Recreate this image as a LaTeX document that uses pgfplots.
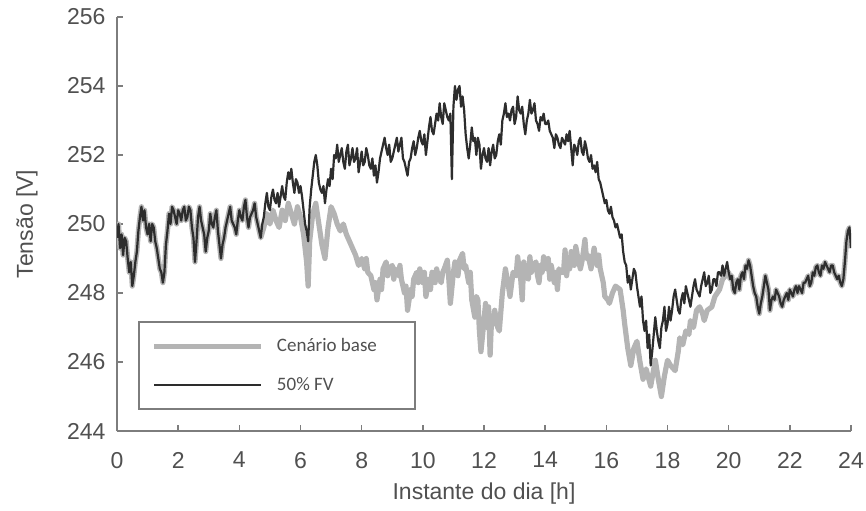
\documentclass[border=0pt]{standalone}
\usepackage{pgfplots}
\pgfplotsset{compat=1.18}
\usepackage{pgfplotstable}
\usepackage{fontspec}
\setmainfont{Liberation Sans}
\newfontfamily\legfont{Carlito}
\definecolor{axgray}{RGB}{125,125,125}
\definecolor{txtgray}{RGB}{80,80,80}
\definecolor{basegray}{RGB}{180,180,180}
\definecolor{fvblack}{RGB}{45,45,45}

\pgfplotstableread{
x y
0.00 249.6
0.05 250.0
0.10 249.3
0.15 249.7
0.20 249.1
0.25 249.6
0.30 249.5
0.35 249.0
0.40 248.6
0.45 248.9
0.50 248.2
0.55 248.5
0.60 248.9
0.65 249.2
0.70 249.8
0.75 250.2
0.80 250.5
0.85 250.1
0.90 250.4
0.95 249.9
1.00 249.7
1.05 250.0
1.10 249.5
1.15 250.0
1.20 249.9
1.25 249.5
1.30 249.3
1.35 249.0
1.40 248.7
1.45 248.6
1.50 248.3
1.55 248.6
1.60 249.4
1.65 249.8
1.70 250.3
1.75 250.0
1.80 250.5
1.85 250.4
1.90 250.2
1.95 250.0
2.00 250.4
2.05 250.3
2.10 250.1
2.15 250.4
2.20 250.5
2.25 250.1
2.30 250.2
2.35 250.5
2.40 250.4
2.45 249.9
2.50 249.6
2.55 248.9
2.60 249.5
2.65 250.2
2.70 250.5
2.75 250.1
2.80 249.9
2.85 249.7
2.90 249.2
2.95 249.6
3.00 249.8
3.05 250.3
3.10 250.0
3.15 249.9
3.20 250.2
3.25 250.4
3.30 249.8
3.35 249.4
3.40 249.0
3.45 249.4
3.50 249.6
3.55 249.9
3.60 250.1
3.65 250.3
3.70 250.5
3.75 250.1
3.80 250.0
3.85 249.9
3.90 249.7
3.95 250.1
4.00 250.4
4.05 250.2
4.10 250.1
4.15 250.5
4.20 250.7
4.25 250.2
4.30 249.9
4.35 250.2
4.40 250.3
4.45 250.4
4.50 250.6
4.55 250.2
4.60 250.0
4.65 249.8
4.70 249.6
4.75 250.0
4.80 250.2
4.85 250.6
4.90 250.9
4.95 250.5
5.00 250.4
5.05 250.8
5.10 251.0
5.15 250.7
5.20 250.6
5.25 250.9
5.30 250.5
5.35 250.8
5.40 251.1
5.45 250.8
5.50 250.7
5.55 251.2
5.60 251.5
5.65 251.3
5.70 251.6
5.75 251.2
5.80 250.9
5.85 251.3
5.90 251.2
5.95 250.9
6.00 251.1
6.05 250.8
6.10 250.4
6.15 250.0
6.20 249.8
6.25 249.5
6.30 250.5
6.35 251.0
6.40 251.4
6.45 251.8
6.50 252.0
6.55 251.7
6.60 251.2
6.65 251.0
6.70 250.9
6.75 251.1
6.80 250.6
6.85 251.0
6.90 251.3
6.95 251.1
7.00 251.6
7.05 251.3
7.10 252.0
7.15 251.9
7.20 252.3
7.25 251.8
7.30 252.0
7.35 252.2
7.40 251.8
7.45 251.6
7.50 252.1
7.55 252.3
7.60 251.7
7.65 251.9
7.70 252.2
7.75 251.8
7.80 251.9
7.85 252.2
7.90 251.5
7.95 251.8
8.00 252.1
8.05 251.7
8.10 251.8
8.15 252.2
8.20 252.0
8.25 251.7
8.30 251.6
8.35 251.9
8.40 251.4
8.45 251.7
8.50 251.2
8.55 251.5
8.60 251.9
8.65 252.1
8.70 252.3
8.75 252.5
8.80 252.2
8.85 252.0
8.90 252.3
8.95 251.8
9.00 251.9
9.05 252.1
9.10 252.3
9.15 252.5
9.20 252.1
9.25 252.3
9.30 252.5
9.35 251.9
9.40 251.8
9.45 251.6
9.50 251.4
9.55 251.8
9.60 251.9
9.65 252.2
9.70 252.4
9.75 252.0
9.80 252.2
9.85 252.5
9.90 252.7
9.95 252.4
10.00 252.3
10.05 252.6
10.10 252.0
10.15 252.4
10.20 252.8
10.25 253.1
10.30 252.7
10.35 252.6
10.40 252.9
10.45 253.2
10.50 253.0
10.55 253.5
10.60 253.1
10.65 252.9
10.70 253.5
10.75 253.3
10.80 253.1
10.85 253.0
10.90 253.2
10.95 251.3
11.00 253.4
11.05 254.0
11.10 253.6
11.15 253.9
11.20 254.0
11.25 253.4
11.30 253.7
11.35 253.3
11.40 252.6
11.45 252.2
11.50 251.9
11.55 252.3
11.60 252.8
11.65 252.4
11.70 252.5
11.75 252.0
11.80 252.5
11.85 252.3
11.90 251.6
11.95 252.0
12.00 252.2
12.05 251.9
12.10 251.8
12.15 252.2
12.20 251.7
12.25 252.1
12.30 252.3
12.35 251.9
12.40 252.0
12.45 252.4
12.50 252.6
12.55 252.3
12.60 253.0
12.65 253.2
12.70 253.5
12.75 253.1
12.80 253.2
12.85 253.0
12.90 253.3
12.95 253.4
13.00 252.9
13.05 253.1
13.10 253.7
13.15 253.3
13.20 253.2
13.25 253.4
13.30 252.9
13.35 252.6
13.40 253.0
13.45 253.2
13.50 253.6
13.55 253.2
13.60 253.3
13.65 253.5
13.70 253.0
13.75 252.9
13.80 252.7
13.85 253.1
13.90 253.0
13.95 253.2
14.00 252.9
14.05 252.9
14.10 253.0
14.15 252.7
14.20 252.6
14.25 252.5
14.30 252.2
14.35 252.6
14.40 252.5
14.45 252.3
14.50 252.2
14.55 252.5
14.60 252.4
14.65 252.3
14.70 252.6
14.75 252.4
14.80 252.7
14.85 252.2
14.90 251.7
14.95 252.3
15.00 252.2
15.05 252.0
15.10 252.4
15.15 252.5
15.20 252.1
15.25 252.0
15.30 252.4
15.35 252.2
15.40 251.9
15.45 251.8
15.50 252.0
15.55 251.6
15.60 251.7
15.65 251.5
15.70 251.8
15.75 251.3
15.80 251.2
15.85 251.0
15.90 250.8
15.95 250.6
16.00 250.7
16.05 250.4
16.10 250.3
16.15 250.5
16.20 250.2
16.25 250.1
16.30 249.9
16.35 250.0
16.40 249.8
16.45 249.6
16.50 249.7
16.55 249.2
16.60 248.9
16.65 248.8
16.70 248.3
16.75 248.5
16.80 248.1
16.85 248.4
16.90 248.7
16.95 248.6
17.00 248.2
17.05 247.9
17.10 247.6
17.15 247.9
17.20 247.2
17.25 246.9
17.30 247.2
17.35 246.4
17.40 246.8
17.45 245.9
17.50 246.3
17.55 246.8
17.60 247.3
17.65 246.9
17.70 246.6
17.75 246.4
17.80 247.0
17.85 247.2
17.90 247.6
17.95 246.9
18.00 247.1
18.05 247.6
18.10 247.2
18.15 247.5
18.20 247.9
18.25 248.1
18.30 247.8
18.35 247.5
18.40 247.4
18.45 247.8
18.50 248.0
18.55 247.7
18.60 248.2
18.65 248.0
18.70 247.8
18.75 247.6
18.80 247.9
18.85 248.2
18.90 248.4
18.95 248.1
19.00 248.0
19.05 247.9
19.10 248.2
19.15 248.4
19.20 248.6
19.25 248.2
19.30 248.3
19.35 248.5
19.40 248.0
19.45 248.1
19.50 248.4
19.55 248.4
19.60 248.2
19.65 248.6
19.70 248.6
19.75 248.5
19.80 248.8
19.85 248.5
19.90 248.7
19.95 248.9
20.00 248.6
20.05 248.4
20.10 248.5
20.15 248.1
20.20 248.0
20.25 248.3
20.30 248.4
20.35 248.1
20.40 248.5
20.45 248.6
20.50 248.4
20.55 248.8
20.60 248.7
20.65 248.95
20.70 248.8
20.75 248.5
20.80 248.2
20.85 248.0
20.90 247.9
20.95 247.6
21.00 247.4
21.05 247.7
21.10 247.9
21.15 248.2
21.20 248.5
21.25 248.3
21.30 248.1
21.35 247.5
21.40 247.8
21.45 247.9
21.50 247.8
21.55 248.1
21.60 248.0
21.65 247.9
21.70 247.7
21.75 247.6
21.80 247.8
21.85 247.9
21.90 248.0
21.95 247.8
22.00 248.1
22.05 248.0
22.10 247.9
22.15 248.1
22.20 248.2
22.25 248.0
22.30 248.2
22.35 248.1
22.40 248.0
22.45 248.3
22.50 248.3
22.55 248.4
22.60 248.5
22.65 248.2
22.70 248.3
22.75 248.6
22.80 248.5
22.85 248.75
22.90 248.8
22.95 248.6
23.00 248.5
23.05 248.8
23.10 248.7
23.15 248.9
23.20 248.8
23.25 248.7
23.30 248.6
23.35 248.8
23.40 248.8
23.45 248.6
23.50 248.5
23.55 248.4
23.60 248.5
23.65 248.3
23.70 248.2
23.75 248.4
23.80 248.9
23.85 249.5
23.90 249.8
23.95 249.9
24.00 249.3
}\fvdata

\pgfplotstableread{
x y
0.00 249.6
0.05 250.0
0.10 249.3
0.15 249.7
0.20 249.1
0.25 249.6
0.30 249.5
0.35 249.0
0.40 248.6
0.45 248.9
0.50 248.2
0.55 248.5
0.60 248.9
0.65 249.2
0.70 249.8
0.75 250.2
0.80 250.5
0.85 250.1
0.90 250.4
0.95 249.9
1.00 249.7
1.05 250.0
1.10 249.5
1.15 250.0
1.20 249.9
1.25 249.5
1.30 249.3
1.35 249.0
1.40 248.7
1.45 248.6
1.50 248.3
1.55 248.6
1.60 249.4
1.65 249.8
1.70 250.3
1.75 250.0
1.80 250.5
1.85 250.4
1.90 250.2
1.95 250.0
2.00 250.4
2.05 250.3
2.10 250.1
2.15 250.4
2.20 250.5
2.25 250.1
2.30 250.2
2.35 250.5
2.40 250.4
2.45 249.9
2.50 249.6
2.55 248.9
2.60 249.5
2.65 250.2
2.70 250.5
2.75 250.1
2.80 249.9
2.85 249.7
2.90 249.2
2.95 249.6
3.00 249.8
3.05 250.3
3.10 250.0
3.15 249.9
3.20 250.2
3.25 250.4
3.30 249.8
3.35 249.4
3.40 249.0
3.45 249.4
3.50 249.6
3.55 249.9
3.60 250.1
3.65 250.3
3.70 250.5
3.75 250.1
3.80 250.0
3.85 249.9
3.90 249.7
3.95 250.1
4.00 250.4
4.05 250.2
4.10 250.1
4.15 250.5
4.20 250.7
4.25 250.2
4.30 249.9
4.35 250.2
4.40 250.3
4.45 250.4
4.50 250.6
4.55 250.2
4.60 250.0
4.65 249.8
4.70 249.6
4.80 249.9
4.90 250.3
5.00 250.0
5.10 250.4
5.20 250.1
5.30 249.9
5.40 250.4
5.50 250.1
5.60 250.6
5.70 250.3
5.80 250.0
5.90 250.5
6.00 250.2
6.10 249.7
6.20 248.9
6.25 248.2
6.30 249.5
6.40 250.3
6.50 250.6
6.60 250.0
6.70 249.4
6.80 249.0
6.90 249.9
7.00 250.5
7.10 250.3
7.20 250.0
7.30 249.8
7.40 250.0
7.50 249.7
7.60 249.5
7.70 249.3
7.80 249.1
7.90 248.8
8.00 249.0
8.10 248.7
8.15 249.0
8.20 248.6
8.30 248.5
8.40 248.1
8.45 248.3
8.50 247.8
8.60 248.4
8.65 248.1
8.70 248.7
8.80 248.9
8.85 248.5
8.90 248.7
9.00 248.8
9.05 248.4
9.10 248.7
9.20 248.5
9.25 248.8
9.30 248.4
9.40 248.0
9.45 248.2
9.50 247.5
9.60 248.1
9.65 247.9
9.70 248.4
9.80 248.6
9.85 248.3
9.90 248.7
10.00 248.3
10.05 248.6
10.10 247.9
10.20 248.4
10.25 248.1
10.30 248.6
10.40 248.3
10.45 248.7
10.50 248.5
10.60 248.3
10.65 248.6
10.70 248.7
10.80 248.95
10.85 248.4
10.90 247.7
11.00 248.6
11.05 248.9
11.10 248.7
11.15 248.5
11.20 248.95
11.30 249.15
11.35 248.7
11.40 248.8
11.50 248.3
11.55 248.6
11.60 247.8
11.70 247.3
11.75 247.9
11.80 247.8
11.85 246.9
11.90 246.3
12.00 247.2
12.05 247.7
12.10 247.0
12.15 247.6
12.20 246.2
12.25 247.3
12.30 247.1
12.35 247.5
12.45 247.0
12.50 246.9
12.60 248.0
12.70 248.7
12.80 248.2
12.85 247.9
12.95 248.6
13.05 248.5
13.10 249.05
13.15 248.7
13.20 248.4
13.25 247.8
13.30 248.9
13.35 248.5
13.45 248.4
13.50 249.05
13.55 248.6
13.60 248.8
13.70 248.9
13.75 248.5
13.80 248.3
13.85 248.8
13.90 248.6
13.95 249.05
14.05 248.7
14.10 249.0
14.15 248.4
14.20 248.8
14.30 248.3
14.35 248.6
14.40 248.1
14.45 248.7
14.50 248.6
14.60 248.6
14.65 249.25
14.70 248.5
14.75 248.9
14.80 248.7
14.85 249.2
14.90 249.0
14.95 248.8
15.00 249.35
15.05 249.1
15.10 248.9
15.15 248.7
15.20 248.9
15.25 249.2
15.30 249.55
15.35 249.0
15.40 249.1
15.45 248.9
15.50 248.7
15.55 249.0
15.60 249.3
15.65 249.0
15.70 248.8
15.75 249.1
15.80 248.7
15.85 248.5
15.90 248.3
15.95 247.9
16.05 247.8
16.10 247.7
16.20 248.0
16.30 248.2
16.45 248.1
16.55 247.5
16.60 247.1
16.70 246.4
16.80 245.9
16.90 246.4
17.00 246.6
17.10 246.0
17.20 245.5
17.30 245.8
17.45 245.3
17.55 245.8
17.60 246.05
17.70 245.5
17.80 245.0
17.90 245.6
18.00 246.05
18.10 245.9
18.25 245.75
18.35 246.3
18.40 246.7
18.50 246.5
18.60 246.9
18.70 246.8
18.75 247.2
18.85 247.0
18.95 247.5
19.05 247.6
19.15 247.4
19.20 247.2
19.30 247.5
19.45 247.6
19.55 247.9
19.70 248.1
19.80 248.4
19.90 248.5
20.00 248.6
20.05 248.4
20.10 248.5
20.15 248.1
20.20 248.0
20.25 248.3
20.30 248.4
20.35 248.1
20.40 248.5
20.45 248.6
20.50 248.4
20.55 248.8
20.60 248.7
20.65 248.95
20.70 248.8
20.75 248.5
20.80 248.2
20.85 248.0
20.90 247.9
20.95 247.6
21.00 247.4
21.05 247.7
21.10 247.9
21.15 248.2
21.20 248.5
21.25 248.3
21.30 248.1
21.35 247.5
21.40 247.8
21.45 247.9
21.50 247.8
21.55 248.1
21.60 248.0
21.65 247.9
21.70 247.7
21.75 247.6
21.80 247.8
21.85 247.9
21.90 248.0
21.95 247.8
22.00 248.1
22.05 248.0
22.10 247.9
22.15 248.1
22.20 248.2
22.25 248.0
22.30 248.2
22.35 248.1
22.40 248.0
22.45 248.3
22.50 248.3
22.55 248.4
22.60 248.5
22.65 248.2
22.70 248.3
22.75 248.6
22.80 248.5
22.85 248.75
22.90 248.8
22.95 248.6
23.00 248.5
23.05 248.8
23.10 248.7
23.15 248.9
23.20 248.8
23.25 248.7
23.30 248.6
23.35 248.8
23.40 248.8
23.45 248.6
23.50 248.5
23.55 248.4
23.60 248.5
23.65 248.3
23.70 248.2
23.75 248.4
23.80 248.9
23.85 249.5
23.90 249.8
23.95 249.9
24.00 249.3
}\basedata

\begin{document}
\begin{tikzpicture}
\useasboundingbox (0,0) rectangle (433pt,255pt);
\begin{axis}[
  at={(58.5pt,39.5pt)}, anchor=south west,
  scale only axis, width=367pt, height=207pt,
  xmin=0, xmax=24, ymin=244, ymax=256,
  xtick={0,2,...,24}, ytick={244,246,...,256},
  axis lines*=left,
  axis line style={axgray, line width=0.8pt},
  tick style={axgray, line width=0.8pt},
  tick align=inside, major tick length=3pt,
  /pgf/number format/assume math mode=true,
  tick label style={text=txtgray, font=\fontsize{11.5}{13}\selectfont},
  xticklabel style={yshift=-7pt},
  yticklabel style={xshift=-2.2pt},
  xlabel={Instante do dia [h]},
  ylabel={Tensão [V]},
  label style={text=txtgray, font=\fontsize{11.5}{13}\selectfont},
  xlabel style={at={(axis description cs:0.5,-0.152)}, anchor=center},
  ylabel style={at={(axis description cs:-0.1226,0.5)}, anchor=center},
  legend image code/.code={\draw[#1] (0pt,0pt) -- (53.5pt,0pt);},
  legend cell align=left,
  legend style={at={(axis description cs:0.0286,0.0507)}, anchor=south west,
    draw=axgray, line width=0.8pt, inner xsep=6.5pt, inner ysep=2.3pt,
    font=\legfont\fontsize{9.5}{11}\selectfont, text=txtgray,
    nodes={inner sep=0pt, minimum height=19.5pt},
    /tikz/every odd column/.append style={column sep=6.5pt}},
]
\addplot[basegray, line width=2.6pt, line join=round] table[x=x,y=y] {\basedata};
\addlegendentry{\makebox[62.5pt][l]{Cenário base}}
\addplot[fvblack, line width=1.1pt, line join=round] table[x=x,y=y] {\fvdata};
\addlegendentry{\makebox[62.5pt][l]{50\% FV}}
\end{axis}
\end{tikzpicture}
\end{document}
